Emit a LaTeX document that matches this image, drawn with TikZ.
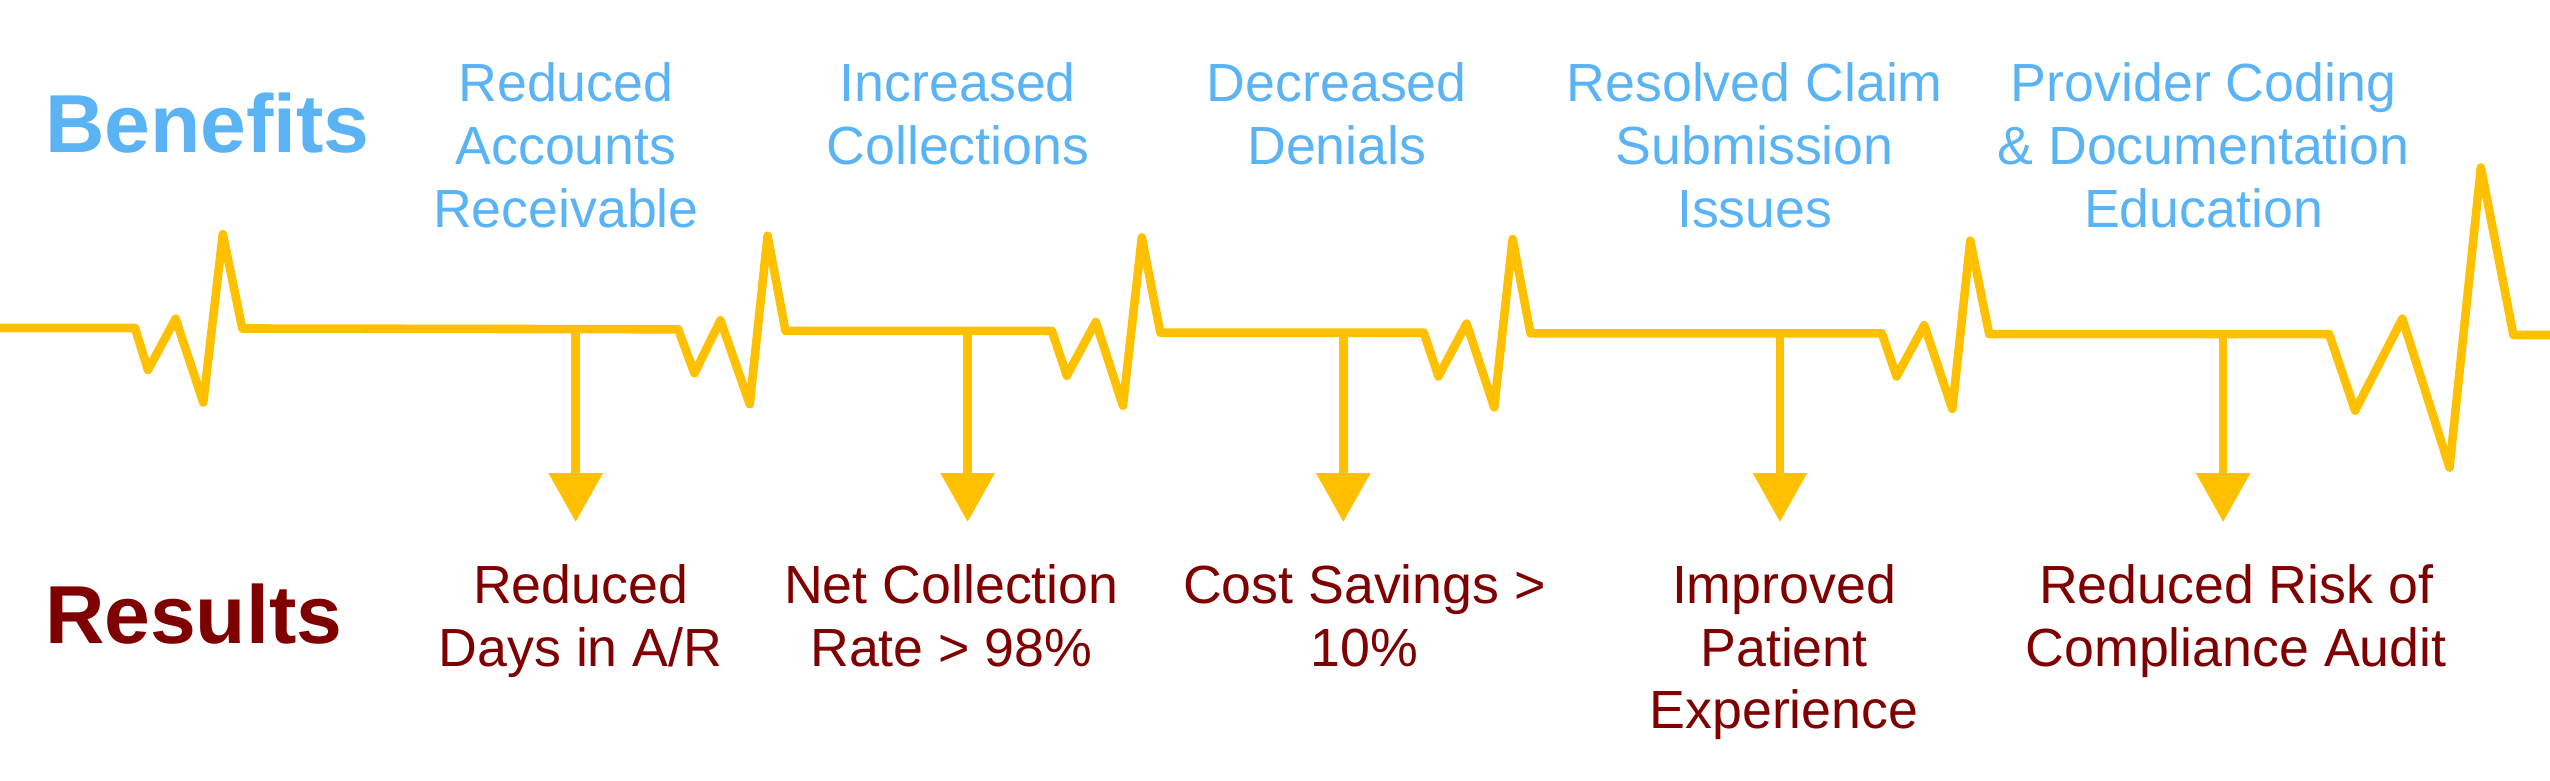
\documentclass[tikz,border=0pt]{standalone}
\usepackage{fontspec}
\setmainfont{Liberation Sans}
\usepackage{tikz}
\usetikzlibrary{arrows.meta,positioning}
\usepackage{xcolor}
\definecolor{pulsegold}{HTML}{FFC000}
\definecolor{benefitblue}{HTML}{5AB3F5}
\definecolor{resultred}{HTML}{7F0000}

\begin{document}
\begin{tikzpicture}[x=0.1mm, y=-0.1mm, >=Latex,
  head/.style={inner sep=0pt, anchor=base west, font=\fontsize{14.4}{17}\selectfont\bfseries},
  ben/.style={inner sep=0pt, anchor=north, align=center, text=benefitblue,
    font=\fontsize{9.4}{11}\selectfont},
  res/.style={ben, text=resultred},
  pulse/.style={draw=pulsegold, line width=1.5pt, line join=round},
  arr/.style={-{Triangle[length=3mm, width=3.2mm]}, draw=pulsegold, line width=1.5pt,
    shorten >=2.53mm}]
  \useasboundingbox (0,0) rectangle (1568,480);
  \node[head, text=benefitblue] (ben) at (27,93.5) {Benefits};
  \node[head, text=resultred] (res) at (27,395.5) {Results};
  \node[ben] (b1) at (348,37.8) {Reduced\\Accounts\\Receivable};
  \node[ben] (b2) at (589,37.8) {Increased\\Collections};
  \node[ben] (b3) at (822,37.8) {Decreased\\Denials};
  \node[ben] (b4) at (1079,37.8) {Resolved Claim\\Submission\\Issues};
  \node[ben] (b5) at (1355,37.8) {Provider Coding\\\& Documentation\\Education};
  \node[res] (r1) at (357,346.3) {Reduced\\Days in A/R};
  \node[res] (r2) at (585,346.3) {Net Collection\\Rate > 98\%};
  \node[res] (r3) at (839,346.3) {Cost Savings >\\10\%};
  \node[res] (r4) at (1097,346.3) {Improved\\Patient\\Experience};
  \node[res] (r5) at (1375,346.3) {Reduced Risk of\\Compliance Audit};
  \draw[pulse] (0,201.7) -- (83,201.7) -- (91,227.5) -- (108,196) -- (125,247.5)
    -- (137,144) -- (149,202) -- (417,202.5) -- (427,229.5) -- (443,197)
    -- (461,248.5) -- (472,145) -- (483,203.5) -- (646.8,203.5) -- (656,231)
    -- (673.8,198) -- (690.5,249.5) -- (702.1,146) -- (713.5,204.6)
    -- (875.5,204.6) -- (884.5,231.5) -- (901.8,199) -- (918.8,250.5) -- (930.1,147)
    -- (941.1,205) -- (1157.2,205) -- (1166.2,231.5) -- (1183.2,200) -- (1200.5,251.5)
    -- (1211.5,148) -- (1223.2,205.5) -- (1432.2,205.5) -- (1448.2,252.5)
    -- (1477.2,196) -- (1506.2,287.5) -- (1525.5,103) -- (1545.5,206) -- (1568,206);
  \coordinate (p1) at (354,202.5);
  \coordinate (p2) at (595,203.5);
  \coordinate (p3) at (826,204.6);
  \coordinate (p4) at (1094.5,205);
  \coordinate (p5) at (1367,205.5);
  \draw[arr] (p1) -- (p1 |- r1.north);
  \draw[arr] (p2) -- (p2 |- r2.north);
  \draw[arr] (p3) -- (p3 |- r3.north);
  \draw[arr] (p4) -- (p4 |- r4.north);
  \draw[arr] (p5) -- (p5 |- r5.north);
\end{tikzpicture}
\end{document}
